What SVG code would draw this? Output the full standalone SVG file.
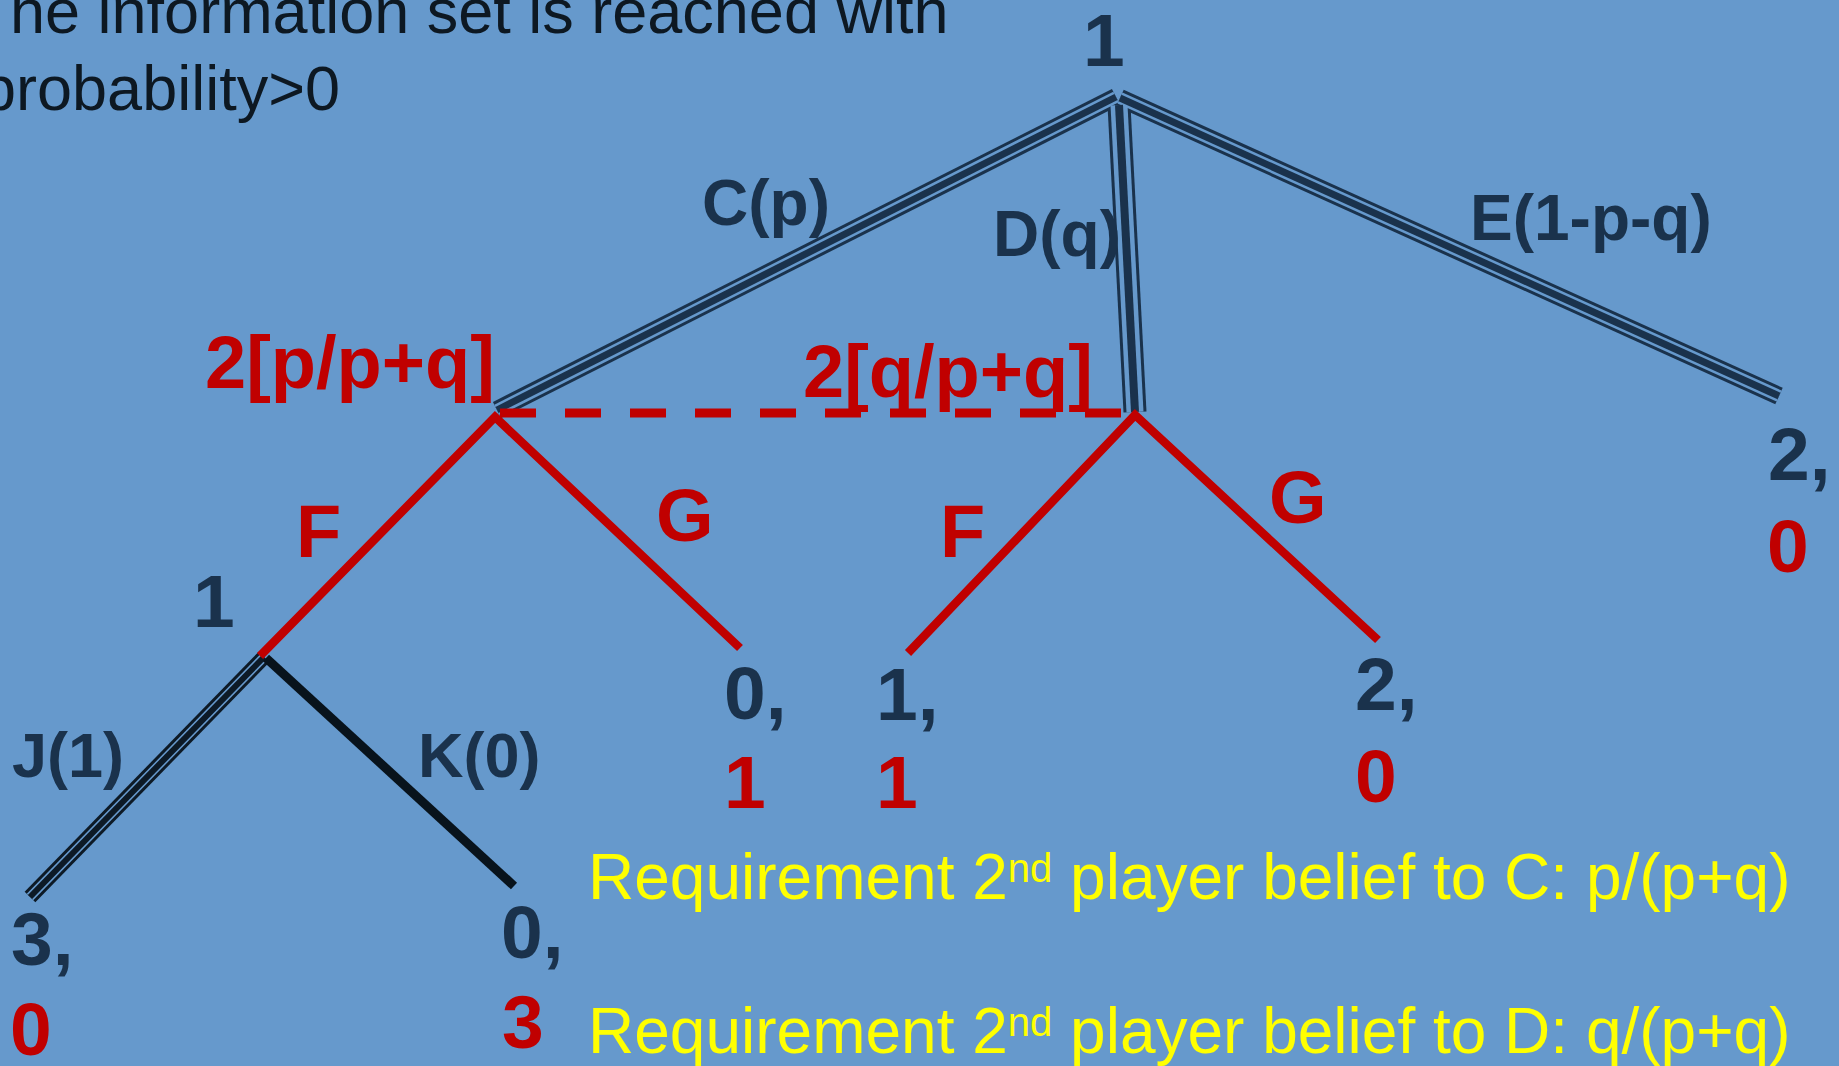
<svg xmlns="http://www.w3.org/2000/svg" width="1839" height="1066" viewBox="0 0 1839 1066">
<style>
text{font-family:"Liberation Sans",Arial,sans-serif}
.b{font-weight:bold}
.nv{fill:#1A324C}
.rd{fill:#C00000}
.yl{fill:#FFFF00}
.top{fill:#0D1822;font-size:63px}
.lab{font-size:64px}
.pay{font-size:75px}
.to{stroke:#1A324C;stroke-width:18;fill:none}
.tg{stroke:#6699CC;stroke-width:12;fill:none}
.tc{stroke:#1A324C;stroke-width:7;fill:none}
.red{stroke:#C00000;stroke-width:8.5;fill:none;stroke-linejoin:miter}
</style>
<rect width="1839" height="1066" fill="#6699CC"/>

<g id="title">
<text class="top" x="10" y="33">he information set is reached with</text>
<text class="top" x="-19" y="110">probability&gt;0</text>
</g>

<g id="connectors">
<line class="to" x1="497" y1="410" x2="1116" y2="97"/>
<line class="to" x1="1120" y1="98" x2="1779" y2="396"/>
<line class="to" x1="1119" y1="105" x2="1135" y2="412" style="stroke-width:23"/>
<line class="to" x1="264" y1="657" x2="30" y2="897" style="stroke:#0D1A26;stroke-width:15"/>
<line class="tg" x1="497" y1="410" x2="1116" y2="97"/>
<line class="tg" x1="1120" y1="98" x2="1779" y2="396"/>
<line class="tg" x1="1119" y1="105" x2="1135" y2="412" style="stroke-width:17"/>
<line class="tg" x1="264" y1="657" x2="30" y2="897" style="stroke-width:9"/>
<line class="tc" x1="497" y1="410" x2="1116" y2="97"/>
<line class="tc" x1="1120" y1="98" x2="1779" y2="396"/>
<line class="tc" x1="1119" y1="105" x2="1135" y2="412" style="stroke-width:8"/>
<line class="tc" x1="264" y1="657" x2="30" y2="897" style="stroke:#0D1A26;stroke-width:6"/>
<line x1="266" y1="658" x2="514" y2="886" stroke="#08131C" stroke-width="9"/>
<line x1="500" y1="413" x2="1124" y2="413" stroke="#C00000" stroke-width="9" stroke-dasharray="36 29"/>
<polyline class="red" points="260,656 495,417 740,648"/>
<polyline class="red" points="908,653 1135,415 1378,640"/>
</g>

<g id="root">
<text class="b nv pay" x="1083" y="66">1</text>
</g>
<g id="edge-labels">
<text class="b nv lab" x="702" y="225">C(p)</text>
<text class="b nv lab" x="993" y="256">D(q)</text>
<text class="b nv lab" x="1470" y="240">E(1-p-q)</text>
<text class="b nv" style="font-size:63px" x="12" y="777">J(1)</text>
<text class="b nv" style="font-size:63px" x="418" y="777">K(0)</text>
<text class="b rd" style="font-size:74px" x="296" y="557">F</text>
<text class="b rd" style="font-size:74px" x="656" y="541">G</text>
<text class="b rd" style="font-size:74px" x="940" y="557">F</text>
<text class="b rd" style="font-size:74px" x="1269" y="523">G</text>
</g>
<g id="node-2C">
<text class="b rd" style="font-size:74px" x="205" y="388">2[p/p+q]</text>
</g>
<g id="node-2D">
<text class="b rd" style="font-size:74px" x="803" y="397">2[q/p+q]</text>
</g>
<g id="node-1F">
<text class="b nv pay" x="193" y="627">1</text>
</g>

<g id="pay-J">
<text class="b nv pay" x="11" y="965">3,</text>
<text class="b rd pay" x="10" y="1055">0</text>
</g>
<g id="pay-K">
<text class="b nv pay" x="501" y="958">0,</text>
<text class="b rd pay" x="502" y="1048">3</text>
</g>
<g id="pay-CG">
<text class="b nv pay" x="724" y="719">0,</text>
<text class="b rd pay" x="724" y="808">1</text>
</g>
<g id="pay-DF">
<text class="b nv pay" x="876" y="720">1,</text>
<text class="b rd pay" x="876" y="808">1</text>
</g>
<g id="pay-DG">
<text class="b nv pay" x="1355" y="710">2,</text>
<text class="b rd pay" x="1355" y="802">0</text>
</g>
<g id="pay-E">
<text class="b nv pay" x="1768" y="480">2,</text>
<text class="b rd pay" x="1767" y="572">0</text>
</g>

<g id="notes">
<text class="yl" style="font-size:64px" x="588" y="899">Requirement 2<tspan style="font-size:40px" dy="-17">nd</tspan><tspan dy="17"> player belief to C: p/(p+q)</tspan></text>
<text class="yl" style="font-size:64px" x="588" y="1053">Requirement 2<tspan style="font-size:40px" dy="-17">nd</tspan><tspan dy="17"> player belief to D: q/(p+q)</tspan></text>
</g>
</svg>
